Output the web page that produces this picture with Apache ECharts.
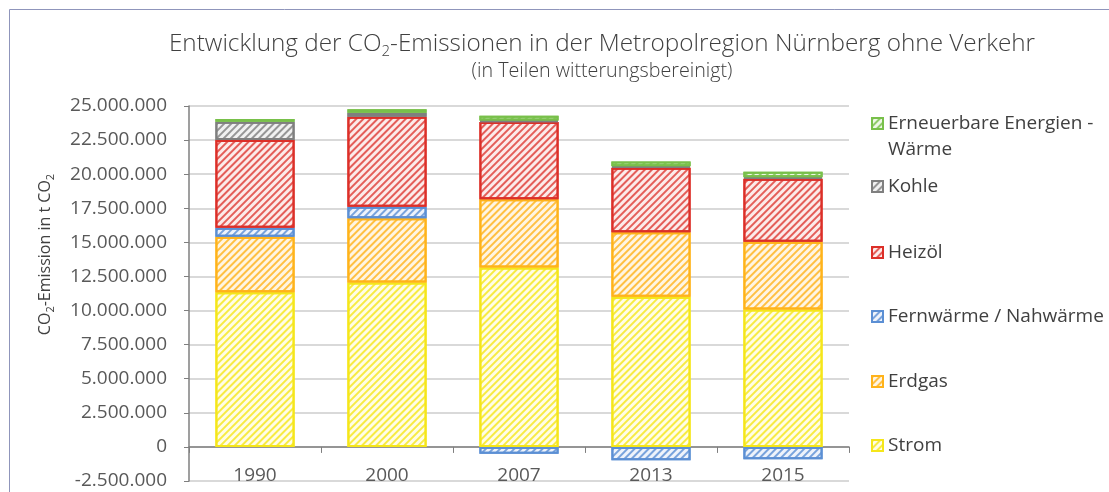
<!DOCTYPE html>
<html>
<head>
    <meta charset="utf-8">
    <title>CO2-Emissionen Metropolregion Nürnberg</title>
    <script src="https://cdn.jsdelivr.net/npm/echarts@6/dist/echarts.min.js"></script>
</head>
<body style="margin: 0;background:#fff;">
<div id="main" style="width: 1109px;height: 492px;"></div>
<script type="text/javascript">
    // Daten (t CO2), von unten nach oben gestapelt
    var years = ['1990', '2000', '2007', '2013', '2015'];
    var strom = [11350000, 12050000, 13150000, 11020000, 10070000];
    var erdgas = [4070000, 4720000, 5010000, 4720000, 4980000];
    var fernwaerme = [660000, 850000, -510000, -980000, -900000];
    var heizoel = [6430000, 6600000, 5670000, 4740000, 4620000];
    var kohle = [1340000, 290000, 100000, 100000, 100000];
    var erneuerbare = [200000, 250000, 350000, 350000, 410000];

    var fontFam = '"Open Sans", Lato, sans-serif';

    function fmt(v) {
        return String(v).replace(/\B(?=(\d{3})+(?!\d))/g, '.');
    }

    // schraffierte Balken wie im Original
    function hatched(name, data, col, hatch, tint) {
        return {
            name: name,
            type: 'bar',
            stack: 'co2',
            barWidth: '60%',
            data: data,
            itemStyle: {
                color: tint,
                borderColor: col,
                borderWidth: 2,
                decal: {
                    symbol: 'rect',
                    symbolSize: 1,
                    dashArrayX: [1, 0],
                    dashArrayY: [1.3, 3],
                    rotation: -Math.PI / 4,
                    color: hatch
                }
            }
        };
    }

    function legendAt(name, top, label) {
        return {
            data: [name],
            orient: 'vertical',
            left: 866,
            top: top,
            icon: 'rect',
            itemWidth: 11,
            itemHeight: 11,
            itemGap: 0,
            formatter: label ? function () { return label; } : undefined,
            textStyle: {fontFamily: fontFam, fontSize: 19, color: '#404040', lineHeight: 25}
        };
    }

    var myChart = echarts.init(document.getElementById('main'));
    var option = {
        backgroundColor: '#fff',
        animation: false,
        title: {
            text: 'Entwicklung der CO{sub|2}-Emissionen in der Metropolregion Nürnberg ohne Verkehr',
            subtext: '(in Teilen witterungsbereinigt)',
            left: 597,
            textAlign: 'center',
            top: 24,
            itemGap: 5,
            textStyle: {
                fontFamily: fontFam, fontSize: 24.3, fontWeight: 300, color: '#404040',
                rich: {sub: {fontFamily: fontFam, fontSize: 15, fontWeight: 300, color: '#404040', verticalAlign: 'bottom', padding: [15, 0, 0, 0]}}
            },
            subtextStyle: {fontFamily: fontFam, fontSize: 19.7, fontWeight: 300, color: '#404040'}
        },
        legend: [
            legendAt('Erneuerbare Energien - Wärme', 106, 'Erneuerbare Energien -'),
            legendAt('Kohle', 169),
            legendAt('Heizöl', 235),
            legendAt('Fernwärme / Nahwärme', 299),
            legendAt('Erdgas', 364),
            legendAt('Strom', 428)
        ],
        graphic: [{
            type: 'rect',
            silent: true,
            shape: {x: 9.5, y: 9.5, width: 1300, height: 700},
            style: {fill: 'none', stroke: '#8f95bb', lineWidth: 1}
        }, {
            // zweite Zeile des ersten Legendeneintrags
            type: 'text',
            silent: true,
            left: 888,
            top: 140,
            style: {text: 'Wärme', fontFamily: fontFam, fontSize: 19, fill: '#404040'}
        }],
        grid: {left: 189, right: 260, top: 106, bottom: 11, outerBoundsMode: 'none', containLabel: false},
        xAxis: {
            type: 'category',
            data: years,
            axisLine: {onZero: true, lineStyle: {color: '#7f7f7f', width: 1.5}},
            axisTick: {show: true, length: 6, lineStyle: {color: '#7f7f7f'}},
            axisLabel: {fontFamily: fontFam, fontSize: 19, color: '#595959', margin: -15}
        },
        yAxis: {
            type: 'value',
            min: -2500000,
            max: 25000000,
            interval: 2500000,
            name: 'CO{sub|2}-Emission in t CO{sub|2}',
            nameLocation: 'middle',
            nameGap: 133,
            nameTextStyle: {
                fontFamily: fontFam, fontSize: 16, color: '#404040', padding: [0, 0, 0, 78],
                rich: {sub: {fontFamily: fontFam, fontSize: 11, color: '#404040', verticalAlign: 'bottom', padding: [10, 0, 0, 0]}}
            },
            axisLine: {show: true, lineStyle: {color: '#7f7f7f', width: 1.5}},
            axisTick: {show: true, length: 5, lineStyle: {color: '#7f7f7f'}},
            axisLabel: {fontFamily: fontFam, fontSize: 19, color: '#595959', margin: 22, formatter: fmt},
            splitLine: {lineStyle: {color: '#d9d9d9', width: 2}}
        },
        series: [
            hatched('Strom', strom, '#f5e61a', 'rgba(245,230,26,0.8)', '#fffde6'),
            hatched('Erdgas', erdgas, '#ffb31a', 'rgba(255,179,26,0.8)', '#fff5e3'),
            hatched('Fernwärme / Nahwärme', fernwaerme, '#5b8fd4', 'rgba(91,143,212,0.8)', '#eef3fb'),
            hatched('Heizöl', heizoel, '#dc2f28', 'rgba(220,47,40,0.75)', '#fcebea'),
            hatched('Kohle', kohle, '#7f7f7f', 'rgba(127,127,127,0.8)', '#f1f1f1'),
            hatched('Erneuerbare Energien - Wärme', erneuerbare, '#78c04a', 'rgba(120,192,74,0.8)', '#edf7e6')
        ]
    };
    myChart.setOption(option);
</script>
</body>
</html>
